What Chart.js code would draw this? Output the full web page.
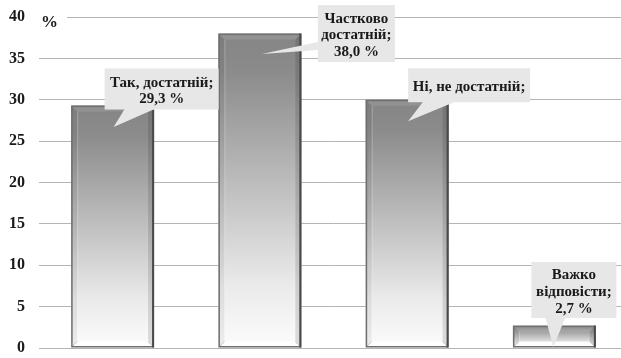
<!DOCTYPE html>
<html>
<head>
<meta charset="utf-8">
<script src="https://cdn.jsdelivr.net/npm/chart.js@4/dist/chart.umd.min.js"></script>
<style>
html,body{margin:0;padding:0;background:#fff;overflow:hidden;width:621px;height:358px;}
#wrap{width:630px;height:358px;}
</style>
</head>
<body>
<div id="wrap"><canvas id="c" width="630" height="358"></canvas></div>
<script>
// ---- data ----
const categories = ["Так, достатній", "Частково достатній", "Ні, не достатній", "Важко відповісти"];
const values = [29.3, 38.0, 30.0, 2.7];
const calloutTexts = [
  ["Так, достатній;", "29,3 %"],
  ["Частково", "достатній;", "38,0 %"],
  ["Ні, не достатній;"],
  ["Важко", "відповісти;", "2,7 %"]
];
const yTicks = [0, 5, 10, 15, 20, 25, 30, 35, 40];
const yUnit = "%";

// ---- callout geometry (styling, offsets relative to bar top-centre) ----
const calloutStyle = [
  {bx:-8, by:-37, w:114, h:41, tip:[1,21.5], base:[[12,4],[42,4]], side:'bottom'},
  {bx:58, by:-28.5, w:77, h:57, tip:[2,20.5], base:[[58,8.5],[58,16.5]], side:'left'},
  {bx:1, by:-31.5, w:122, h:34, tip:[1,21.5], base:[[16,2.5],[48,2.5]], side:'bottom'},
  {bx:-23, by:-63.7, w:85, h:56, tip:[-1,21.3], base:[[-9,-7.7],[11,-7.7]], side:'bottom'}
];

const FONT = "'Liberation Serif', 'DejaVu Serif', serif";

const barPlugin = {
  id: 'bevelBars',
  afterDatasetsDraw(chart) {
    const ctx = chart.ctx;
    const meta = chart.getDatasetMeta(0);
    meta.data.forEach(el => {
      const L = el.x - el.width / 2, R = el.x + el.width / 2, T = el.y, B = el.base;
      const h = B - T;
      const b = Math.min(6, h / 3);
      ctx.save();
      const g = ctx.createLinearGradient(0, T, 0, B);
      g.addColorStop(0, '#858585');
      g.addColorStop(0.12, '#8b8b8b');
      g.addColorStop(0.5, '#c0c0c0');
      g.addColorStop(0.8, '#eaeaea');
      g.addColorStop(1, '#fcfcfc');
      ctx.fillStyle = g;
      ctx.fillRect(L, T, R - L, h);
      ctx.beginPath();
      ctx.moveTo(L, T); ctx.lineTo(L + b, T + b); ctx.lineTo(L + b, B - b); ctx.lineTo(L, B); ctx.closePath();
      ctx.fillStyle = 'rgba(0,0,0,0.06)'; ctx.fill();
      ctx.beginPath();
      ctx.moveTo(R, T); ctx.lineTo(R - b, T + b); ctx.lineTo(R - b, B - b); ctx.lineTo(R, B); ctx.closePath();
      ctx.fillStyle = 'rgba(0,0,0,0.12)'; ctx.fill();
      ctx.beginPath();
      ctx.moveTo(L, T); ctx.lineTo(R, T); ctx.lineTo(R - b, T + b); ctx.lineTo(L + b, T + b); ctx.closePath();
      ctx.fillStyle = 'rgba(255,255,255,0.10)'; ctx.fill();
      ctx.beginPath();
      ctx.moveTo(L, B); ctx.lineTo(R, B); ctx.lineTo(R - b, B - b); ctx.lineTo(L + b, B - b); ctx.closePath();
      ctx.fillStyle = 'rgba(255,255,255,0.92)'; ctx.fill();
      ctx.strokeStyle = 'rgba(150,185,215,0.8)'; ctx.lineWidth = 1;
      ctx.beginPath();
      ctx.moveTo(L + 1, B - 1); ctx.lineTo(L + b, B - b);
      ctx.moveTo(R - 1, B - 1); ctx.lineTo(R - b, B - b);
      ctx.stroke();
      ctx.strokeStyle = 'rgba(255,255,255,0.25)';
      ctx.beginPath();
      ctx.moveTo(L + b + 0.5, T + b); ctx.lineTo(L + b + 0.5, B - b);
      ctx.stroke();
      ctx.strokeStyle = '#6f6f6f'; ctx.lineWidth = 1.5;
      ctx.strokeRect(L + 0.75, T + 0.75, R - L - 1.5, h - 1.5);
      ctx.strokeStyle = '#4a4a4a'; ctx.lineWidth = 2;
      ctx.beginPath(); ctx.moveTo(R - 1, T); ctx.lineTo(R - 1, B); ctx.stroke();
      ctx.restore();
    });
  },
  afterDraw(chart) {
    const ctx = chart.ctx;
    const meta = chart.getDatasetMeta(0);
    const area = chart.chartArea;
    ctx.save();
    ctx.font = "bold 17px " + FONT;
    ctx.fillStyle = '#fff';
    ctx.fillRect(area.left, area.top - 3, 28, 6);
    ctx.fillStyle = '#1a1a1a';
    ctx.textAlign = 'left'; ctx.textBaseline = 'middle';
    ctx.fillText(yUnit, area.left + 2, area.top + 6);
    ctx.restore();
    meta.data.forEach((el, i) => {
      const s = calloutStyle[i];
      const cx = el.x, cy = el.y;
      const bx = cx + s.bx, by = cy + s.by;
      ctx.save();
      ctx.fillStyle = '#e7e7e7';
      ctx.fillRect(bx, by, s.w, s.h);
      ctx.beginPath();
      ctx.moveTo(cx + s.base[0][0], s.side === 'bottom' ? by + s.h - 0.5 : by + s.base[0][1] - s.by);
      ctx.lineTo(cx + s.tip[0], cy + s.tip[1]);
      ctx.lineTo(cx + s.base[1][0], s.side === 'bottom' ? by + s.h - 0.5 : by + s.base[1][1] - s.by);
      ctx.closePath();
      ctx.fill();
      ctx.font = "bold 15px " + FONT;
      ctx.fillStyle = '#1a1a1a';
      ctx.textAlign = 'center'; ctx.textBaseline = 'middle';
      const lines = calloutTexts[i];
      const lh = 16.8;
      const midY = by + s.h / 2 + 2;
      lines.forEach((t, k) => {
        ctx.fillText(t, bx + s.w / 2, midY + (k - (lines.length - 1) / 2) * lh);
      });
      ctx.restore();
    });
  }
};

new Chart(document.getElementById('c'), {
  type: 'bar',
  data: {
    labels: categories,
    datasets: [{
      data: values,
      backgroundColor: 'rgba(0,0,0,0)',
      borderWidth: 0,
      barPercentage: 0.563,
      categoryPercentage: 1
    }]
  },
  options: {
    responsive: false,
    animation: false,
    devicePixelRatio: 1,
    layout: { padding: { top: 17, bottom: 10, left: 0, right: 2 } },
    plugins: { legend: { display: false }, tooltip: { enabled: false } },
    scales: {
      x: { display: false, offset: true },
      y: {
        min: 0, max: 40,
        afterBuildTicks(scale) { scale.ticks = yTicks.map(v => ({ value: v })); },
        afterFit(scale) { scale.width = 39; },
        border: { display: false },
        grid: { color: '#b4b4b4', lineWidth: 1, drawTicks: true, tickLength: 14, tickColor: 'rgba(0,0,0,0)' },
        ticks: {
          padding: 0,
          color: '#1a1a1a',
          font: { family: FONT, size: 16, weight: 'bold', lineHeight: 1 }
        }
      }
    }
  },
  plugins: [barPlugin]
});
</script>
</body>
</html>
